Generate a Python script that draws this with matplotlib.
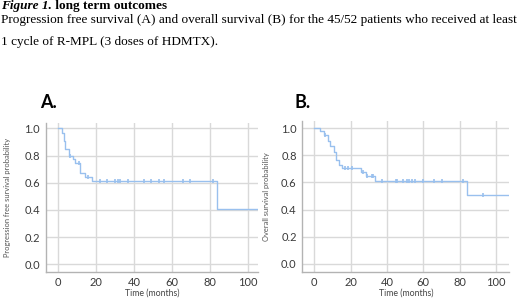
import numpy as np
import matplotlib
matplotlib.use("Agg")
import matplotlib.pyplot as plt

# ---------------- data ----------------
# Panel A: progression free survival (Kaplan-Meier steps)
pfs_times = [0, 2.1, 2.8, 3.7, 5.8, 7.9, 8.9, 11.6, 14.0, 17.6, 83.4, 110]
pfs_surv = [1.0, 0.963, 0.909, 0.846, 0.797, 0.772, 0.748, 0.674, 0.645, 0.615, 0.41, 0.41]
pfs_censor = [6.1, 11.1, 15.8, 21.9, 25.8, 29.8, 31.3, 32.6, 36.6, 45.0, 48.6,
              53.0, 55.5, 65.6, 69.5, 81.6]

# Panel B: overall survival
os_times = [0, 3.1, 5.5, 7.3, 8.6, 11.0, 11.9, 13.8, 15.0, 25.7, 28.4, 33.4, 83.9, 110]
os_surv = [1.0, 0.983, 0.951, 0.909, 0.872, 0.828, 0.766, 0.729, 0.704, 0.680,
           0.650, 0.613, 0.508, 0.508]
os_censor = [5.9, 16.9, 18.3, 20.6, 27.0, 29.1, 31.5, 32.3, 37.4, 45.0, 45.7,
             49.0, 50.8, 52.3, 54.0, 55.5, 60.0, 66.0, 70.0, 81.7, 93.0]

x_ticks = [0, 20, 40, 60, 80, 100]
y_ticks = [0.0, 0.2, 0.4, 0.6, 0.8, 1.0]
y_tick_labels = ["0.0", "0.2", "0.4", "0.6", "0.8", "1.0"]

panel_labels = ["A.", "B."]
y_labels = ["Progression free survival probability", "Overall survival probability"]
x_label = "Time (months)"

title_bold_italic = "Figure 1."
title_bold = " long term outcomes"
caption_1 = "Progression free survival (A) and overall survival (B) for the 45/52 patients who received at least"
caption_2 = "1 cycle of R-MPL (3 doses of HDMTX)."

# ---------------- style ----------------
W, H = 520, 300
LINE_COLOR = "#99c0ee"
GRID_COLOR = "#d9d9d9"
SPINE_COLOR = "#b3b3b3"
TEXT_COLOR = "#3a3a3a"
SANS = ["Lato", "DejaVu Sans"]
SERIF = ["Liberation Serif", "DejaVu Serif"]

fig = plt.figure(figsize=(W / 100, H / 100), dpi=100)
fig.patch.set_facecolor("white")


def px_rect(left, right, top, bottom):
    return [left / W, (H - bottom) / H, (right - left) / W, (bottom - top) / H]


axes_specs = [
    dict(rect=px_rect(45.7, 258.3, 122.5, 271.5), xlim=(-6.6, 105.3), ylim=(-0.053, 1.043),
         times=pfs_times, surv=pfs_surv, cens=pfs_censor, ylabel=y_labels[0],
         label=panel_labels[0], label_xy=(40, 108.3), ylabel_x=7.3),
    dict(rect=px_rect(302.3, 509.3, 120.7, 271.7), xlim=(-6.6, 107.3), ylim=(-0.059, 1.056),
         times=os_times, surv=os_surv, cens=os_censor, ylabel=y_labels[1],
         label=panel_labels[1], label_xy=(295, 108), ylabel_x=266.7),
]

for spec in axes_specs:
    ax = fig.add_axes(spec["rect"])
    t = np.array(spec["times"])
    s = np.array(spec["surv"])
    ax.step(t, s, where="post", color=LINE_COLOR, lw=1.0, zorder=3)
    c = np.array(spec["cens"])
    idx = np.searchsorted(t, c, side="right") - 1
    ax.plot(c, s[idx], linestyle="none", marker="|", markersize=2.6,
            markeredgewidth=1.2, color=LINE_COLOR, zorder=4)
    ax.set_xlim(*spec["xlim"])
    ax.set_ylim(*spec["ylim"])
    ax.set_xticks(x_ticks)
    ax.set_yticks(y_ticks)
    ax.set_yticklabels(y_tick_labels)
    ax.grid(True, color=GRID_COLOR, lw=1.0, zorder=0)
    ax.set_axisbelow(True)
    for side in ["top", "right"]:
        ax.spines[side].set_visible(False)
    for side in ["left", "bottom"]:
        ax.spines[side].set_color(SPINE_COLOR)
        ax.spines[side].set_linewidth(1.0)
    ax.tick_params(length=0, labelsize=8, colors=TEXT_COLOR, pad=4)
    for lab in ax.get_xticklabels() + ax.get_yticklabels():
        lab.set_family(SANS)
    # axis labels
    ax.set_ylabel(spec["ylabel"], fontsize=5.4, family=SANS, color="#555555")
    ax.yaxis.set_label_coords((spec["ylabel_x"] - spec["rect"][0] * W) / (spec["rect"][2] * W), 0.5)
    ax.set_xlabel(x_label, fontsize=6.3, family=SANS, color="#444444")
    ax.xaxis.set_label_coords(0.5, -(293 - (H - spec["rect"][1] * H)) / (spec["rect"][3] * H))
    ax.xaxis.label.set_va("center")
    ax.yaxis.label.set_va("center")
    lx, ly = spec["label_xy"]
    fig.text(lx / W, 1 - ly / H, spec["label"], fontsize=13, fontweight="bold",
             family=SANS, color="black", va="baseline", ha="left")

# ---------------- caption text ----------------
fig.canvas.draw()
renderer = fig.canvas.get_renderer()

fs = 9.5
probe = fig.text(0, 0, caption_1, fontsize=fs, family=SERIF)
w = probe.get_window_extent(renderer).width
probe.remove()
fs = fs * 516 / w

t1 = fig.text(1 / W, 1 - 8.5 / H, title_bold_italic, fontsize=fs, family=SERIF,
              fontweight="bold", fontstyle="italic", va="baseline", ha="left", color="black")
ext = t1.get_window_extent(renderer)
fig.text(ext.x1 / W, 1 - 8.5 / H, title_bold, fontsize=fs, family=SERIF,
         fontweight="bold", va="baseline", ha="left", color="black")
fig.text(1 / W, 1 - 23 / H, caption_1, fontsize=fs, family=SERIF,
         va="baseline", ha="left", color="black")
fig.text(1 / W, 1 - 44.5 / H, caption_2, fontsize=fs, family=SERIF,
         va="baseline", ha="left", color="black")

fig.savefig("out.png", dpi=100, facecolor="white")
